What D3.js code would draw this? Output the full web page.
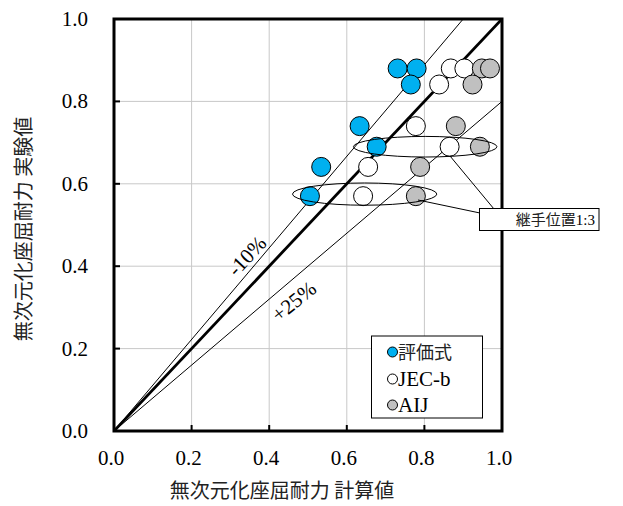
<!DOCTYPE html>
<html>
<head>
<meta charset="utf-8">
<script src="https://cdn.jsdelivr.net/npm/d3@7"></script>
<style>
body{margin:0;background:#fff;}
svg{display:block;font-family:"Liberation Serif",serif;}
</style>
</head>
<body>
<script>
// data
var ticks = [0.0, 0.2, 0.4, 0.6, 0.8, 1.0];
var seriesNames = ["評価式", "JEC-b", "AIJ"];
var seriesFill = ["#00b0f0", "#ffffff", "#c0c0c0"];
var calcHyoka = [0.731, 0.780, 0.765, 0.633, 0.677, 0.534, 0.505];
var calcJEC = [0.868, 0.903, 0.838, 0.778, 0.865, 0.655, 0.642];
var calcAIJ = [0.948, 0.969, 0.924, 0.881, 0.943, 0.789, 0.778];
var expVals = [0.880, 0.880, 0.841, 0.740, 0.690, 0.641, 0.570];
var refRatios = [1.0, 1 / 0.9, 0.8];   // 1:1, -10%, +25%

var svgwidth = 623, svgheight = 506;
var plot = {left: 114, top: 19, right: 502, bottom: 431};

var x = d3.scaleLinear().domain([0, 1]).range([plot.left, plot.right]);
var y = d3.scaleLinear().domain([0, 1]).range([plot.bottom, plot.top]);

var serifFont = "Liberation Serif";
var gothicFont = "Noto Sans CJK JP";

var svg = d3.select("body").append("svg")
	.attr("width", svgwidth)
	.attr("height", svgheight);

svg.append("rect").attr("width", svgwidth).attr("height", svgheight).attr("fill", "#fff");

// grid
svg.append("g").selectAll("line").data(ticks.slice(1, 5)).enter().append("line")
	.attr("x1", function(d){return x(d);}).attr("x2", function(d){return x(d);})
	.attr("y1", plot.top).attr("y2", plot.bottom)
	.attr("stroke", "#c8c8c8").attr("stroke-width", 1);
svg.append("g").selectAll("line").data(ticks.slice(1, 5)).enter().append("line")
	.attr("y1", function(d){return y(d);}).attr("y2", function(d){return y(d);})
	.attr("x1", plot.left).attr("x2", plot.right)
	.attr("stroke", "#c8c8c8").attr("stroke-width", 1);

// reference lines through origin
svg.append("clipPath").attr("id", "pc").append("rect")
	.attr("x", plot.left).attr("y", plot.top)
	.attr("width", plot.right - plot.left).attr("height", plot.bottom - plot.top);
svg.append("g").attr("clip-path", "url(#pc)").selectAll("line").data(refRatios).enter().append("line")
	.attr("x1", x(0)).attr("y1", y(0))
	.attr("x2", function(d){return x(Math.min(1, 1 / d));})
	.attr("y2", function(d){return y(Math.min(1, d));})
	.attr("stroke", "#000")
	.attr("stroke-width", function(d, i){return i == 0 ? 2.8 : 1;});

// points
var allSeries = [calcHyoka, calcJEC, calcAIJ];
allSeries.forEach(function(s, k){
	svg.append("g").selectAll("circle").data(s).enter().append("circle")
		.attr("cx", function(d){return x(d);})
		.attr("cy", function(d, i){return y(expVals[i]);})
		.attr("r", 9.5)
		.attr("fill", seriesFill[k])
		.attr("stroke", "#000").attr("stroke-width", 1);
});

// ellipses marking joint position 1:3
var ellipses = [{cx: 0.802, cy: 0.690, rx: 0.185, ry: 0.025}, {cx: 0.646, cy: 0.575, rx: 0.186, ry: 0.027}];
svg.append("g").selectAll("ellipse").data(ellipses).enter().append("ellipse")
	.attr("cx", function(d){return x(d.cx);})
	.attr("cy", function(d){return y(d.cy);})
	.attr("rx", function(d){return x(d.rx) - x(0);})
	.attr("ry", function(d){return y(0) - y(d.ry);})
	.attr("fill", "none").attr("stroke", "#000").attr("stroke-width", 1);

// frame
svg.append("rect")
	.attr("x", plot.left).attr("y", plot.top)
	.attr("width", plot.right - plot.left).attr("height", plot.bottom - plot.top)
	.attr("fill", "none").attr("stroke", "#000").attr("stroke-width", 3);

// inner ticks
svg.append("g").selectAll("line").data(ticks.slice(1, 5)).enter().append("line")
	.attr("x1", plot.left).attr("x2", plot.left + 6)
	.attr("y1", function(d){return y(d);}).attr("y2", function(d){return y(d);})
	.attr("stroke", "#000").attr("stroke-width", 2);
svg.append("g").selectAll("line").data(ticks.slice(1, 5)).enter().append("line")
	.attr("y1", plot.bottom).attr("y2", plot.bottom - 6)
	.attr("x1", function(d){return x(d);}).attr("x2", function(d){return x(d);})
	.attr("stroke", "#000").attr("stroke-width", 2);

// tick labels
svg.append("g").selectAll("text").data(ticks).enter().append("text")
	.attr("x", function(d){return x(d) - 3;}).attr("y", 465)
	.attr("text-anchor", "middle")
	.attr("font-family", serifFont).style("font-size", "21px")
	.text(function(d){return d.toFixed(1);});
svg.append("g").selectAll("text").data(ticks).enter().append("text")
	.attr("x", 88).attr("y", function(d){return y(d) + 7;})
	.attr("text-anchor", "end")
	.attr("font-family", serifFont).style("font-size", "21px")
	.text(function(d){return d.toFixed(1);});

// axis titles
svg.append("text").attr("x", 282).attr("y", 498)
	.attr("text-anchor", "middle")
	.attr("font-family", gothicFont).style("font-size", "20px").attr("fill", "#222")
	.text("無次元化座屈耐力 計算値");
svg.append("text")
	.attr("transform", "translate(31,229) rotate(-90)")
	.attr("text-anchor", "middle")
	.attr("font-family", gothicFont).style("font-size", "20px").attr("fill", "#222")
	.text("無次元化座屈耐力 実験値");

// line labels
svg.append("text")
	.attr("transform", "translate(" + x(0.342) + "," + y(0.425) + ") rotate(-47)")
	.attr("text-anchor", "middle").attr("dy", "0.35em")
	.attr("font-family", serifFont).style("font-size", "21px")
	.text("-10%");
svg.append("text")
	.attr("transform", "translate(" + x(0.463) + "," + y(0.315) + ") rotate(-39)")
	.attr("text-anchor", "middle").attr("dy", "0.35em")
	.attr("font-family", serifFont).style("font-size", "21px")
	.text("+25%");

// legend
var lg = svg.append("g");
lg.append("rect").attr("x", 371.5).attr("y", 336).attr("width", 111).attr("height", 82)
	.attr("fill", "#fff").attr("stroke", "#000").attr("stroke-width", 1);
var legendY = [352, 379, 405];
seriesNames.forEach(function(n, i){
	lg.append("circle").attr("cx", 392.5).attr("cy", legendY[i]).attr("r", 5)
		.attr("fill", seriesFill[i]).attr("stroke", "#000").attr("stroke-width", 1);
	lg.append("text").attr("x", 398).attr("y", legendY[i] + 7)
		.attr("font-family", i == 0 ? gothicFont : serifFont)
		.style("font-size", i == 0 ? "18px" : "21px")
		.attr("fill", i == 0 ? "#222" : "#000")
		.text(n);
});

// callout
svg.append("line").attr("x1", 450).attr("y1", 156).attr("x2", 494).attr("y2", 209)
	.attr("stroke", "#000").attr("stroke-width", 1);
svg.append("line").attr("x1", 418).attr("y1", 200).attr("x2", 480).attr("y2", 213)
	.attr("stroke", "#000").attr("stroke-width", 1);
svg.append("rect").attr("x", 479.5).attr("y", 208.5).attr("width", 119.5).attr("height", 22)
	.attr("fill", "#fff").attr("stroke", "#000").attr("stroke-width", 1);
var ct = svg.append("text").attr("x", 595).attr("y", 225).attr("text-anchor", "end")
	.style("font-size", "15px");
ct.append("tspan").attr("font-family", gothicFont).attr("fill", "#222").text("継手位置");
ct.append("tspan").attr("font-family", serifFont).text("1:3");
</script>
</body>
</html>
